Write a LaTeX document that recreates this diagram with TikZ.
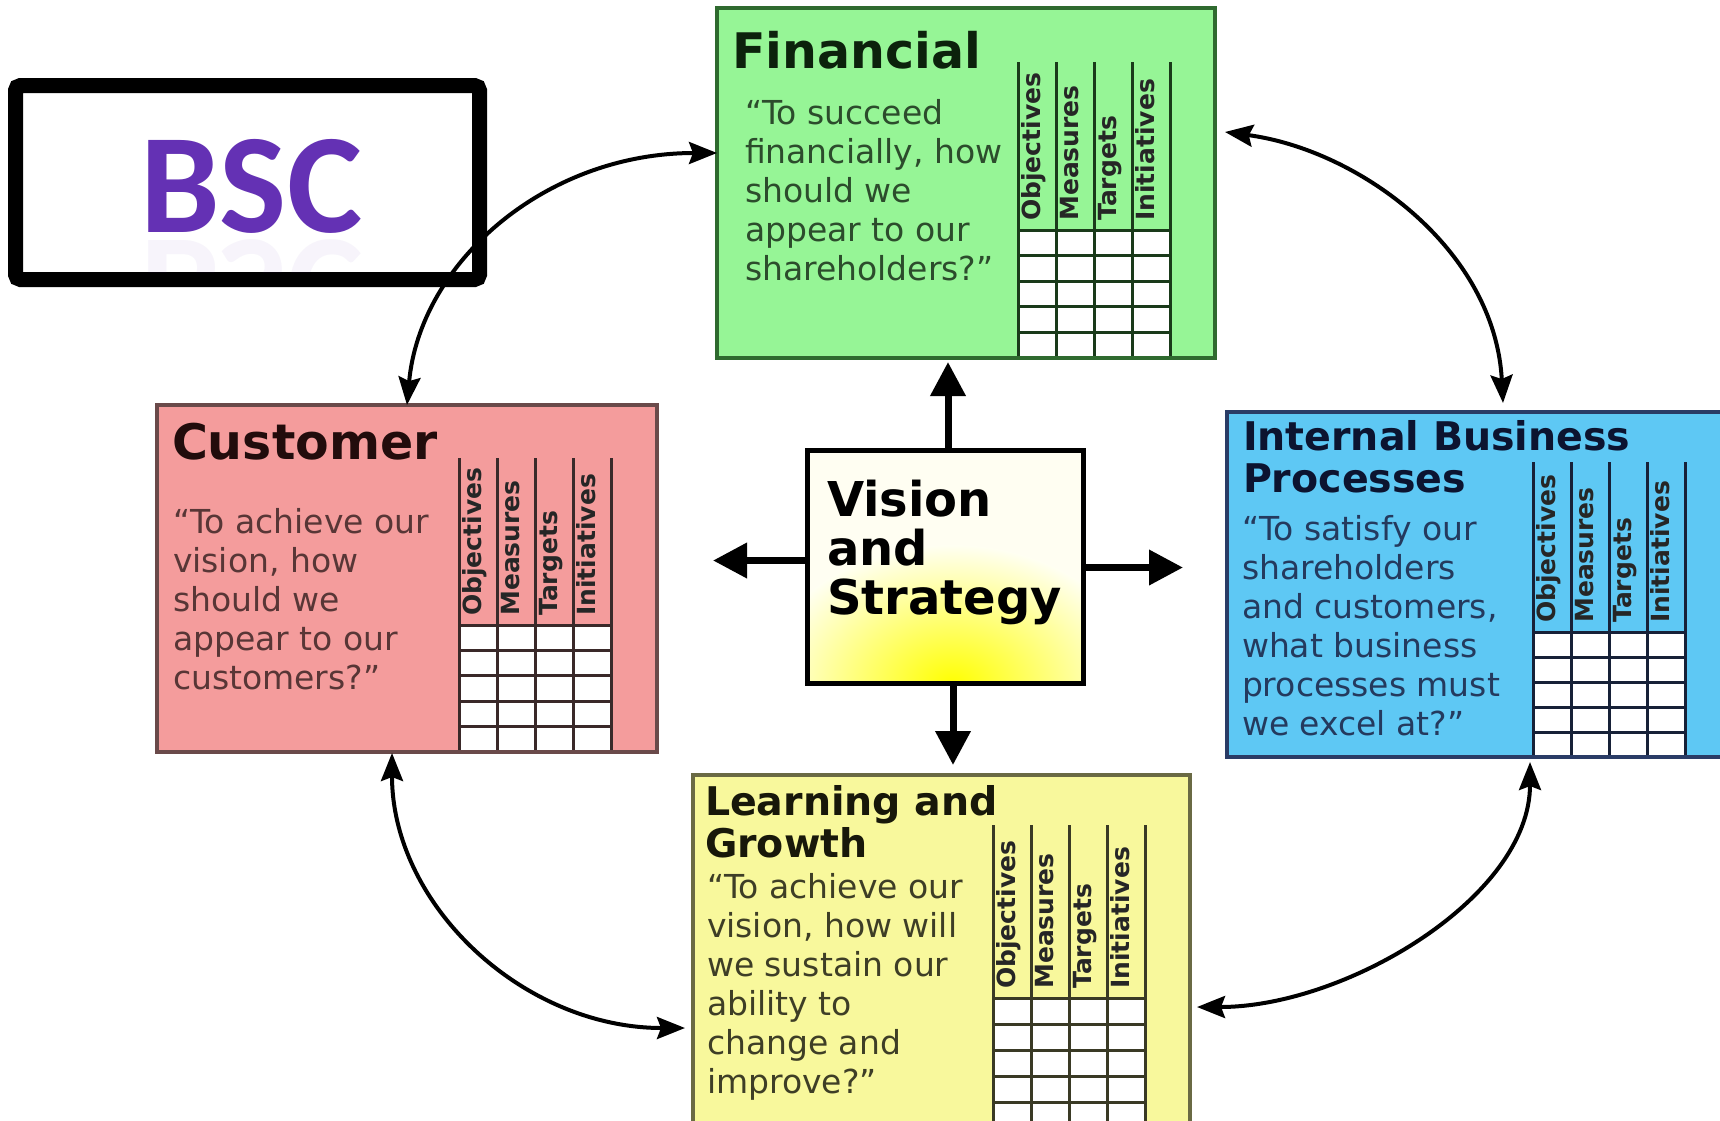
\documentclass[tikz,border=0pt]{standalone}
\usepackage{fontspec}
\setmainfont{DejaVu Sans}
\newfontfamily\bscfont{Carlito}
\usetikzlibrary{arrows.meta,calc}
\definecolor{finfill}{HTML}{96F596}
\definecolor{finline}{HTML}{2F6A2F}
\definecolor{fintext}{HTML}{2C4C2C}
\definecolor{fintitle}{HTML}{0C220C}
\definecolor{cusfill}{HTML}{F49C9C}
\definecolor{cusline}{HTML}{6A4A4A}
\definecolor{custext}{HTML}{583636}
\definecolor{custitle}{HTML}{220C0C}
\definecolor{ibpfill}{HTML}{5EC8F4}
\definecolor{ibpline}{HTML}{2A3C66}
\definecolor{ibptext}{HTML}{243A5E}
\definecolor{ibptitle}{HTML}{0C1430}
\definecolor{lngfill}{HTML}{F8F89C}
\definecolor{lngline}{HTML}{6A6A44}
\definecolor{lngtext}{HTML}{3E3E26}
\definecolor{lngtitle}{HTML}{18180A}
\definecolor{bscpurple}{HTML}{6431B4}
\newcommand\bsctab[7]{%
  \begin{scope}
    \clip (#2-4,#3-4) rectangle (#2+156,#5);
    \fill[white] (#2,#4) rectangle (#2+152,#5);
    \foreach \r in {0,...,6}{\draw[#7,line width=3pt] (#2,#4+\r*#6) -- (#2+152,#4+\r*#6);}
    \foreach \c in {0,...,4}{\draw[#7,line width=3pt] (#2+\c*38,#3) -- (#2+\c*38,#5);}
    \foreach \t [count=\c] in {Objectives,Measures,Targets,Initiatives}{%
      \node[hdr] (#1h\c) at (#2+\c*38-18,#4-9) {\t};}
  \end{scope}}
\begin{document}
\begin{tikzpicture}[x=1pt,y=-1pt,
  box/.style={rectangle, inner sep=0pt, outer sep=0pt, anchor=north west},
  title/.style={font=\bfseries\fontsize{49}{52}\selectfont, inner sep=0pt, outer sep=0pt, anchor=north west, align=left},
  subtitle/.style={font=\bfseries\fontsize{39.5}{42}\selectfont, inner sep=0pt, outer sep=0pt, anchor=north west, align=left},
  vtitle/.style={font=\bfseries\fontsize{48}{49}\selectfont, inner sep=0pt, outer sep=0pt, anchor=north west, align=left},
  quote/.style={font=\fontsize{33}{39}\selectfont, inner sep=0pt, outer sep=0pt, anchor=north west, align=left},
  hdr/.style={font=\bfseries\fontsize{25}{25}\selectfont, text=black!85, rotate=90, inner sep=0pt, anchor=mid west},
  bigarr/.style={line width=7pt, -{Triangle[length=34pt,width=34pt]}},
  cyc/.style={line width=4pt, {Stealth[length=28pt,width=22pt,inset=4pt]}-{Stealth[length=28pt,width=22pt,inset=4pt]}}]
\useasboundingbox (0,0) rectangle (1720,1120);
\clip (0,0) rectangle (1720,1120);
\fill[white] (0,0) rectangle (1720,1120);

% BSC label
\node[draw, line width=15pt, rounded corners=5pt, inner sep=0pt, outer sep=0pt, anchor=north west,
  minimum width=464pt, minimum height=194pt] (bscbox) at (15.5,85.5) {};
\node[font=\bscfont\bfseries\fontsize{142}{142}\selectfont, text=bscpurple, inner sep=0pt, anchor=base west] (bsc) at (140,232) {BSC};
\begin{scope}
  \clip (23,236) rectangle (472,272);
  \node[font=\bscfont\bfseries\fontsize{142}{142}\selectfont, text=bscpurple, opacity=0.05, inner sep=0pt,
    anchor=base west, yscale=-1, transform shape] (bscr) at (140,240) {BSC};
\end{scope}

% Financial
\node[box, fill=finfill, minimum width=498pt, minimum height=350pt] (fin) at (717,8) {};
\bsctab{fin}{1018}{62}{230}{358}{25.6}{finline!55!black}
\draw[finline, line width=4pt] (fin.north west) rectangle (fin.south east);
\node[title, text=fintitle] (fint) at (732,31) {Financial};
\node[quote, text=fintext] (finq) at (745,99) {“To succeed\\financially, how\\should we\\appear to our\\shareholders?”};

% Customer
\node[box, fill=cusfill, minimum width=500pt, minimum height=347pt] (cus) at (157,405) {};
\bsctab{cus}{459}{458}{625}{752}{25.4}{cusline!55!black}
\draw[cusline, line width=3.5pt] (cus.north west) rectangle (cus.south east);
\node[title, text=custitle] (cust) at (172,423) {Customer};
\node[quote, text=custext] (cusq) at (173,508) {“To achieve our\\vision, how\\should we\\appear to our\\customers?”};

% Internal Business Processes
\node[box, fill=ibpfill, minimum width=518pt, minimum height=345pt] (ibp) at (1227,412) {};
\bsctab{ibp}{1533}{462}{632}{757}{25}{ibpline!55!black}
\draw[ibpline, line width=3.5pt] (ibp.north west) rectangle (ibp.south east);
\node[subtitle, text=ibptitle] (ibpt) at (1243,420) {Internal Business\\Processes};
\node[quote, text=ibptext] (ibpq) at (1242,515) {“To satisfy our\\shareholders\\and customers,\\what business\\processes must\\we excel at?”};

% Learning and Growth
\node[box, fill=lngfill, minimum width=497pt, minimum height=365pt] (lng) at (693,775) {};
\bsctab{lng}{993}{825}{998}{1140}{26}{lngline!55!black}
\draw[lngline, line width=3.5pt] (lng.north west) rectangle (lng.south east);
\node[subtitle, text=lngtitle] (lngt) at (705,785) {Learning and\\Growth};
\node[quote, text=lngtext] (lngq) at (707,873) {“To achieve our\\vision, how will\\we sustain our\\ability to\\change and\\improve?”};

% Vision and Strategy
\node[box, fill=yellow!5!white, minimum width=276pt, minimum height=233pt] (vis) at (807,450) {};
\begin{scope}
  \clip (807,450) rectangle (1083,683);
  \shade[inner color=yellow, outer color=yellow!5!white] (952,685) ellipse [x radius=190, y radius=140];
\end{scope}
\draw[line width=5pt] (vis.north west) rectangle (vis.south east);
\node[vtitle] (vist) at (827,480) {Vision\\and\\Strategy};

% straight arrows from Vision and Strategy
\draw[bigarr] ($(vis.north)+(3,0)$) -- ($(vis.north |- fin.south)+(3,4)$);
\draw[bigarr] ($(vis.south)+(8,0)$) -- ($(vis.south |- lng.north)+(8,-10)$);
\draw[bigarr] ($(vis.east)+(0,1)$) -- ($(vis.east -| ibp.west)+(-44,1)$);
\draw[bigarr] ($(vis.west)+(0,-6)$) -- ($(vis.west -| cus.east)+(56,-6)$);

% cycle arrows
\draw[cyc] (cus.north) .. controls (420,262) and (546,153) .. ($(fin.west)+(0,-30)$);
\draw[cyc] ($(fin.east)+(10,-51)$) .. controls (1360,150) and (1495,250) .. ($(ibp.north)+(17,-9)$);
\draw[cyc] ($(ibp.south)+(44,5)$) .. controls (1530,897) and (1346,1007) .. ($(lng.east)+(7,49.5)$);
\draw[cyc] ($(cus.south)+(-15,1)$) .. controls (392,905) and (523,1028) .. ($(lng.west)+(-8,70.5)$);
\end{tikzpicture}
\end{document}
